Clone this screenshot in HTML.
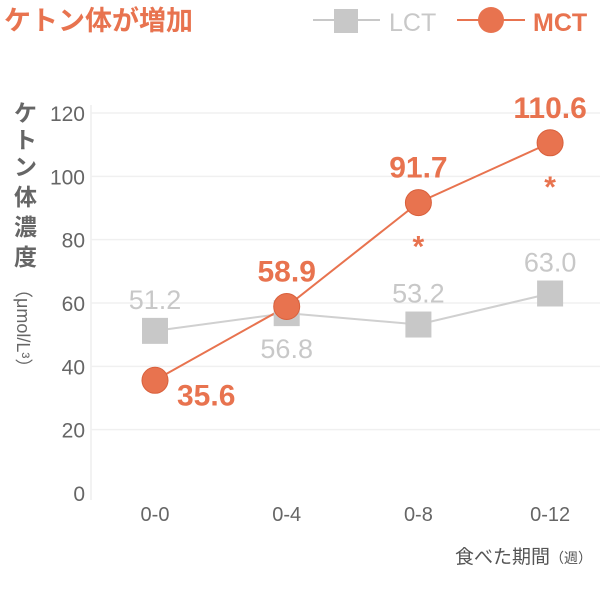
<!DOCTYPE html>
<html><head><meta charset="utf-8"><style>
body{margin:0;background:#fff;width:600px;height:588px;overflow:hidden;font-family:"Liberation Sans","Noto Sans CJK JP",sans-serif}
</style></head><body>
<svg width="600" height="588" viewBox="0 0 600 588" style="font-family:'Liberation Sans','Noto Sans CJK JP',sans-serif">
<text x="4" y="30" font-size="27" font-weight="bold" fill="#e8734f">ケトン体が増加</text>
<g>
<line x1="313" y1="20" x2="380" y2="20" stroke="#c8c8c8" stroke-width="2"/>
<rect x="334" y="9" width="24" height="24" fill="#c8c8c8"/>
<text x="389" y="31" font-size="25" fill="#c8c8c8">LCT</text>
</g>
<g>
<line x1="457" y1="20" x2="525" y2="20" stroke="#e8734f" stroke-width="2"/>
<circle cx="491" cy="20" r="13" fill="#e8734f"/>
<text x="533" y="31" font-size="25" font-weight="bold" fill="#e8734f">MCT</text>
</g>
<text x="0" y="0" font-size="23" font-weight="bold" fill="#666" transform="translate(14,100)">
<tspan x="0" dy="21">ケ</tspan><tspan x="0" dy="27">ト</tspan><tspan x="0" dy="27">ン</tspan><tspan x="0" dy="30">体</tspan><tspan x="0" dy="30">濃</tspan><tspan x="0" dy="30">度</tspan></text>
<text transform="translate(17,280) rotate(90)" font-size="18" fill="#666">（μmol/L³）</text>
<g id="axes"></g>
<g id="marks"></g>
<text x="592" y="563" text-anchor="end" font-size="19" fill="#555">食べた期間<tspan font-size="14">（週）</tspan></text>
</svg>
<script>
const categories=["0-0","0-4","0-8","0-12"];
const lctValues=[51.2,56.8,53.2,63.0];
const mctValues=[35.6,58.9,91.7,110.6];
const yTicks=[0,20,40,60,80,100,120];
const sigFlags=[false,false,true,true];
const NS="http://www.w3.org/2000/svg";
function y(v){return 493-v*(380/120);}
function x(i){return 155+i*131.7;}
function mk(t,a,p){const e=document.createElementNS(NS,t);for(const k in a)e.setAttribute(k,a[k]);p.appendChild(e);return e;}
const ax=document.getElementById('axes'),mg=document.getElementById('marks');
const yl=mk('line',{x1:91,y1:105,x2:91,y2:500,stroke:'#eee','stroke-width':1.5},ax);


yTicks.forEach(v=>{
 if(v>0){const g=mk('line',{x1:91,x2:600,y1:y(v),y2:y(v),stroke:'#f0f0f0','stroke-width':1.5},ax);
 
 }
 const t=mk('text',{x:85,y:y(v)+8,'text-anchor':'end','font-size':21,fill:'#666'},ax);t.textContent=v;
 
 
});
categories.forEach((c,i)=>{const t=mk('text',{x:x(i),y:521,'text-anchor':'middle','font-size':20,fill:'#666'},ax);t.textContent=c;
 
 });
const lp=mk('polyline',{points:lctValues.map((v,i)=>x(i)+','+y(v)).join(' '),fill:'none',stroke:'#d0d0d0','stroke-width':2},mg);


const mp=mk('polyline',{points:mctValues.map((v,i)=>x(i)+','+y(v)).join(' '),fill:'none',stroke:'#e8734f','stroke-width':2},mg);


lctValues.forEach((v,i)=>{
 const r=mk('rect',{x:x(i)-13,y:y(v)-13,width:26,height:26,fill:'#c8c8c8'},mg);
 
 
 const above=(i!==1);
 const t=mk('text',{x:x(i),y:above?y(v)-22:y(v)+45,'text-anchor':'middle','font-size':27,fill:'#c8c8c8'},mg);
 t.textContent=v.toFixed(1);
 
 
});
mctValues.forEach((v,i)=>{
 const c=mk('circle',{cx:x(i),cy:y(v),r:13,fill:'#e8734f',stroke:'#d9603c','stroke-width':1},mg);
 
 
 let tx=x(i),ty=y(v)-25,anc='middle';
 if(i===0){tx=x(i)+22;ty=y(v)+25;anc='start';}
 const t=mk('text',{x:tx,y:ty,'text-anchor':anc,'font-size':30,'font-weight':'bold',fill:'#e8734f'},mg);
 t.textContent=v.toFixed(1);
 
 
 if(sigFlags[i]){const s=mk('text',{x:x(i),y:y(v)+54,'text-anchor':'middle','font-size':30,'font-weight':'bold',fill:'#e8734f'},mg);s.textContent='*';
 
 }
});
</script>
</body></html>
